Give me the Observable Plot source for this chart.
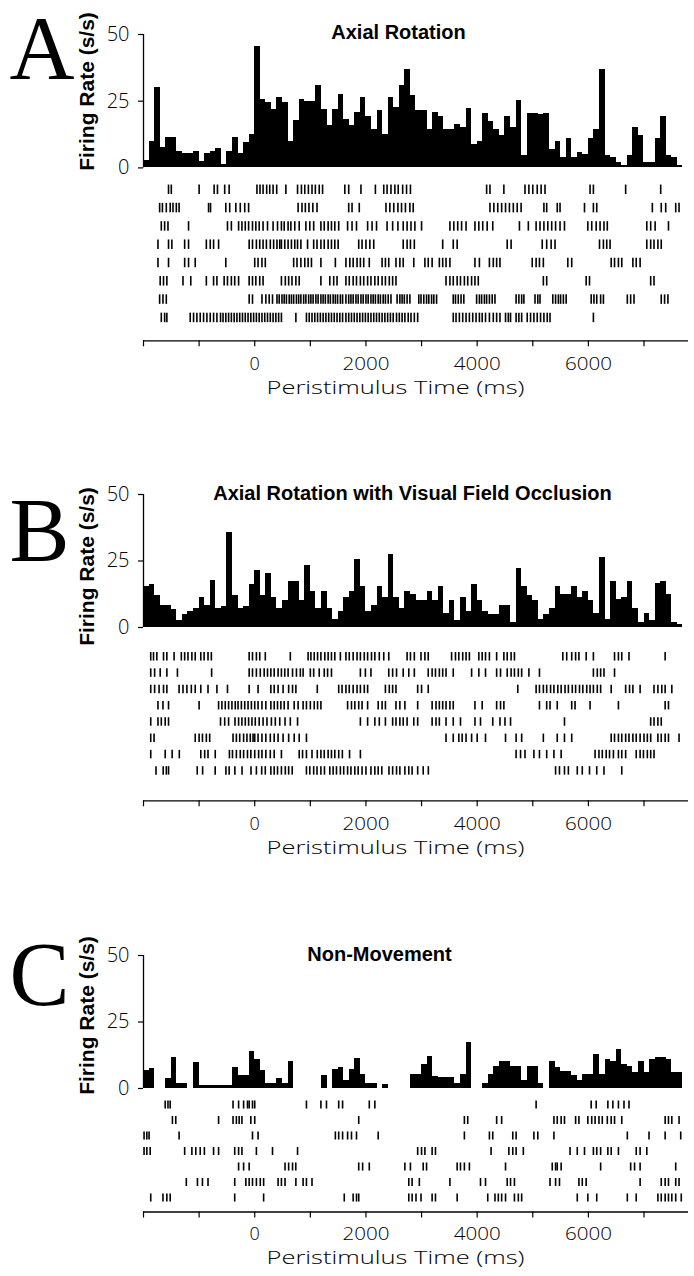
<!DOCTYPE html>
<html>
<head>
<meta charset="utf-8">
<script src="https://cdn.jsdelivr.net/npm/d3@7"></script>
<script src="https://cdn.jsdelivr.net/npm/@observablehq/plot@0.6"></script>
<style>
  html, body { margin: 0; padding: 0; background: #fff; }
  #fig { position: relative; width: 694px; height: 1276px; overflow: hidden; background: #fff; }
  #fig > svg, #fig > figure { position: absolute; left: 0; margin: 0; }
</style>
</head>
<body>
<div id="fig"></div>
<script>
// ---------------- DATA ----------------
// histogram bins: start times (ms), 100 ms wide
const binStarts = d3.range(-2000, 7700, 100);

const rateA = [2.7,10,30,7.5,11.5,11.5,6.3,5.3,5.3,6,2.3,5.3,6.3,7.3,1.3,6.3,11.5,5.5,9.5,12.5,
  45.6,25.5,24.5,22,26.5,24.5,9.8,17.8,25.5,24.8,24.8,30.8,21.8,15.8,21.8,27.5,18.3,15.8,20.6,26.5,
  19.4,14.3,21.5,12.5,26.5,22.5,30.8,36.8,27.3,21.5,21.5,14.3,20.6,19.4,14.3,14.3,16.1,15,22.1,8.8,
  9.8,20.3,17.3,14.3,12.1,19.4,15.3,25.3,4.8,20.3,20.3,20,20.3,6.9,9.8,3.8,11,3.8,5.6,5,
  11,14.3,36.9,4.8,4,1.9,0.8,4.8,15.3,12.1,1.9,1.9,11,19.4,4.8,3.8,0.9];

const rateB = [15.3,16.2,12.2,8.1,8.1,6.8,2.7,5,6,7.2,11.2,8.1,17.8,7.2,8,35.8,12.2,7.2,8,16.2,
  21.4,12.2,20.3,11.2,7.2,10.2,17.2,17.2,10.2,23.4,13.4,7.2,13.4,7.2,3.1,6.2,11.2,13.7,25.5,15.3,
  6.2,8.1,15.3,11.2,27.6,11.2,7.2,13.4,12.4,10.3,10.3,13.4,10.3,15.3,5.2,10.2,2.7,11.2,6.2,16.2,
  10.2,6.2,5,5,8.1,8.1,1.9,22.1,15.3,12.2,10.2,3.1,5,7.2,15.3,12.4,12.4,15.3,11.2,13.4,
  10.2,5.2,26.4,3.1,17.4,10.6,11.2,17.2,7.2,1.9,5.2,2.7,16.4,17.2,12.4,1.9,1.2];

const rateC = [6.6,7.6,0,0,3.6,11.7,1.8,1.8,0,9.6,1.2,1.2,1.2,1.2,1.2,1.2,7.8,4.8,4.8,13.9,
  10.8,6.6,1.8,1.8,3.9,1.8,10,0,0,0,0,0,4.8,0,7.2,7.8,3,7.2,11.2,5.4,
  2,1.8,0,1.5,0,0,0,0,5.4,5.4,9,12,4.5,4.2,4.2,4.2,1.8,5.4,17.2,0,
  0,1.8,5.4,8.1,10.2,10.2,8.4,8.4,3,8.1,8.4,1.8,0,10.2,7.8,6.4,6.4,4.8,3,5.4,
  5.4,12.6,5.4,10.8,10.2,14.8,9,8.1,6,10,6,10.8,11.7,11.7,10.8,6,6];

// raster spike times (ms), one array per trial
const rasterA = [
  [-1550,-1500,-1000,-730,-670,-540,-460,40,95,150,215,270,330,395,560,770,840,900,965,1030,1090,1160,1220,1620,1690,1910,2170,2320,2380,2450,2520,2580,2660,2730,2800,4170,4230,4480,4860,4930,5000,5080,5150,5220,6030,6090,6670,7300],
  [-1710,-1660,-1590,-1520,-1470,-1410,-1360,-830,-795,-520,-450,-340,-260,-180,-110,780,850,910,975,1045,1120,1690,1750,1880,2360,2430,2500,2575,2640,2710,2790,2850,4230,4300,4370,4440,4510,4580,4650,4720,4790,5200,5250,5440,5490,5930,6090,6150,7150,7310,7390,7570,7630],
  [-1680,-1620,-1560,-1190,-490,-420,-290,-230,-170,-110,-40,20,80,150,230,330,410,480,530,600,650,720,800,920,990,1060,1190,1250,1320,1380,1440,1510,1670,1750,1830,2030,2110,2190,2380,2480,2575,2670,2740,2810,2880,3000,3510,3580,3650,3720,3800,3960,4030,4100,4180,4280,4760,4920,5060,5130,5200,5270,5340,5410,5490,5570,5990,6060,6140,6210,6280,6340,7050,7120,7200,7440],
  [-1740,-1550,-1490,-1260,-1190,-870,-800,-740,-650,-100,-40,30,90,150,210,280,340,400,450,480,540,600,660,720,770,830,950,1060,1120,1190,1250,1320,1380,1440,1500,1870,1930,2000,2070,2140,2670,2740,2800,2870,3380,3570,3640,4540,4610,5170,5250,5330,5400,6200,6270,6330,6390,7050,7120,7180,7250,7310],
  [-1740,-1550,-1260,-1190,-1070,-520,0,60,130,190,700,760,830,900,960,1020,1190,1450,1640,1710,1770,1840,1900,1960,2060,2290,2350,2410,2540,2610,2670,2860,3060,3120,3190,3320,3380,3440,3510,3960,4040,4220,4290,4350,4410,4990,5060,5120,5190,5630,5700,6410,6470,6540,6600,6800,6860,6930],
  [-1700,-1640,-1580,-1290,-1150,-870,-740,-680,-550,-490,-420,-360,-290,-100,-40,20,90,150,480,550,610,670,740,800,1190,1350,1420,1480,1640,1700,1770,1830,1900,1960,2030,2090,2160,2220,2290,2350,2420,2480,2540,3440,3510,3570,3640,3700,3770,3830,3900,3960,4020,5190,5250,5960,6020,7120,7180],
  [-1710,-1650,-1590,-100,-40,130,200,260,320,400,440,490,530,570,620,660,700,750,790,830,880,920,970,1010,1050,1100,1140,1190,1230,1270,1320,1360,1410,1450,1490,1540,1580,1640,1690,1730,1770,1820,1860,1910,1950,2000,2040,2090,2130,2170,2220,2260,2310,2350,2400,2450,2560,2610,2650,2690,2740,2790,2950,2990,3040,3090,3130,3180,3220,3270,3570,3610,3660,3710,3760,3990,4040,4080,4130,4170,4220,4270,4320,4700,4750,4800,4840,5040,5090,5130,5360,5410,5460,5500,5550,5600,6050,6100,6150,6220,6270,6700,6760,6820,7310,7370,7430],
  [-1680,-1620,-1580,-1160,-1100,-1040,-980,-920,-860,-800,-740,-680,-615,-570,-520,-470,-420,-370,-320,-270,-220,-170,-120,-70,-20,30,80,130,180,230,280,330,380,430,480,740,930,980,1030,1080,1130,1180,1230,1280,1330,1380,1430,1480,1530,1580,1640,1690,1740,1790,1840,1890,1940,1990,2040,2090,2140,2190,2240,2290,2340,2390,2440,2490,2550,2600,2650,2700,2760,2810,2870,2930,3570,3620,3680,3740,3800,3860,3920,3980,4040,4090,4150,4220,4290,4350,4410,4510,4560,4600,4700,4750,4800,4900,4960,5020,5080,5140,5200,5260,5310,6090]
];

const rasterB = [
  [-1870,-1820,-1760,-1640,-1580,-1450,-1320,-1260,-1200,-1130,-1070,-970,-910,-840,-780,-100,-40,30,90,190,640,960,1010,1070,1130,1190,1260,1320,1380,1440,1540,1640,1700,1770,1840,1900,1970,2030,2100,2160,2240,2320,2410,2740,2800,2870,2990,3060,3120,3540,3610,3670,3740,3800,3860,4030,4090,4150,4220,4350,4480,4540,4610,4670,5540,5610,5700,5770,5830,5960,6090,6470,6540,6600,6730,7380],
  [-1870,-1800,-1700,-1580,-1390,-775,-100,-40,30,100,170,230,290,350,420,480,540,600,680,750,820,870,1000,1060,1160,1250,1310,1380,1900,1990,2090,2410,2480,2550,2670,2770,2870,3120,3190,3250,3320,3380,3440,3570,3900,4030,4150,4350,4420,4540,4610,4670,4740,4800,4930,5120,6090,6160,6220,6280,6470],
  [-1870,-1800,-1720,-1640,-1580,-1360,-1290,-1220,-1140,-1070,-970,-840,-680,-490,-100,60,290,350,420,510,610,680,740,1125,1510,1570,1640,1700,1770,1840,1900,1970,2030,2350,2420,2480,2540,2930,3000,3120,4730,5060,5120,5190,5250,5320,5380,5450,5510,5580,5640,5710,5770,5840,5900,5970,6030,6090,6160,6220,6410,6670,6740,6800,6930,7180,7250,7320,7380,7500],
  [-1740,-1650,-1550,-1000,-650,-590,-530,-470,-410,-350,-300,-240,-180,-120,-60,0,60,130,200,290,350,410,470,530,600,710,780,870,930,1000,1070,1130,1190,1670,1740,1800,1870,1930,2030,2220,2290,2350,2540,2610,2700,2930,3190,3260,3320,3380,3440,3510,3570,3960,4090,4350,4420,4480,5120,5250,5310,5440,5700,5760,6030,6540,7380,7440],
  [-1870,-1740,-1680,-1610,-1550,-615,-540,-470,-355,-290,-230,-170,-110,-50,10,80,150,220,300,370,450,545,640,770,1900,2030,2160,2240,2350,2480,2540,2610,2670,2740,2860,2930,3190,3260,3320,3440,3570,3700,3960,4060,4280,4410,4500,4600,5570,7120,7180,7250,7310],
  [-1870,-1810,-1070,-1000,-940,-870,-810,-390,-330,-270,-200,-140,-80,-30,0,60,130,200,280,350,420,510,610,710,800,930,3440,3570,3670,3730,3800,3900,4000,4150,4510,4700,4800,5190,5440,5570,5700,6410,6470,6540,6600,6670,6730,6800,6860,6930,7000,7060,7120,7250,7310,7380,7440,7630],
  [-1870,-1610,-1485,-1356,-970,-900,-840,-710,-455,-400,-330,-260,-200,-130,-70,0,70,130,200,280,350,480,800,860,930,1030,1125,1190,1250,1320,1380,1440,1510,1576,1705,1900,4700,4780,4860,5020,5120,5250,5380,5510,6120,6190,6250,6320,6380,6450,6540,6600,6670,6860,6930,6990,7060,7120,7180],
  [-1775,-1646,-1590,-1550,-1034,-937,-711,-518,-460,-357,-228,-67,30,125,190,290,350,410,480,550,610,674,930,990,1060,1120,1190,1254,1350,1410,1470,1540,1600,1670,1730,1800,1860,1930,2000,2090,2160,2220,2285,2414,2480,2550,2610,2700,2770,2830,2930,3030,3122,5410,5480,5570,5640,5800,5890,6020,6150,6280,6600]
];

const rasterC = [
  [-1610,-1560,-1520,-390,-290,-200,-130,-100,-40,0,930,1190,1290,1510,1580,2060,2160,5060,6050,6140,6350,6440,6540,6640,6730],
  [-1480,-1420,-650,-390,-330,-280,-230,-70,0,1870,3770,3830,4350,4440,5380,5440,5510,5570,5770,5830,5990,6060,6120,6190,6250,6340,6410,6470,6600,7380,7440,7500,7630],
  [-1990,-1940,-1900,-1360,-40,60,1450,1510,1580,1670,1740,1830,2220,3770,4220,4280,4640,4700,5020,5090,5380,6700,7090,7380,7660],
  [-1990,-1940,-1880,-1260,-1130,-1060,-980,-905,-740,-650,-360,-290,-230,30,320,770,2930,3000,3060,3190,3250,4250,4570,4640,4700,4830,5670,5800,5930,6090,6150,6220,6350,6410,6540,6860,6930,7050],
  [-290,-200,-100,545,610,680,738,1870,1940,2060,2700,2800,3030,3090,3640,3700,3770,3860,4510,5350,5410,5440,5510,6220,6760,6830,6930,7570],
  [-1230,-1030,-940,-840,-360,-160,-100,-40,30,100,160,420,480,545,740,870,930,1030,2770,2830,2960,3510,4060,4150,4540,4600,4670,5310,5410,5480,5830,5890,5960,6930,7310,7380,7440,7570,7630],
  [-1870,-1650,-1580,-1520,-360,160,1610,1770,1830,1870,2770,2830,2900,2990,3190,3250,3640,4190,4320,4380,4440,4510,4670,4740,4800,5800,5990,6150,6700,6860,7250,7310,7380,7440,7500,7570,7670]
];

const yTicks = [0, 25, 50];
const xTicks = [-2000, -1000, 0, 1000, 2000, 3000, 4000, 5000, 6000, 7000];
const xTickLabels = [0, 2000, 4000, 6000];
const letters = ["A", "B", "C"];
const titles = ["Axial Rotation", "Axial Rotation with Visual Field Occlusion", "Non-Movement"];
const yLabel = "Firing Rate (s/s)";
const xLabel = "Peristimulus Time (ms)";

// ---------------- LAYOUT ----------------
const W = 694, ML = 143, MR = 6;
const xDomain = [-2000, 7800];
const thin = "'Open Sans', 'DejaVu Sans', sans-serif";
const bold = "'Liberation Sans', Arial, sans-serif";
const serif = "'Liberation Serif', 'DejaVu Serif', serif";
const frameCX = (ML + (W - MR)) / 2;

const layout = [
  {yTop: 33.6, yBase: 167, letterBase: 78, titleCX: 398, titleDy: 5, yLabelC: 57, rowFirst: 189, rowStep: 18.3, axis: 340, tickLab: 362, xTitle: 393},
  {yTop: 494, yBase: 627, letterBase: 560, titleCX: 412, titleDy: 5, yLabelC: 72, rowFirst: 656, rowStep: 16.3, axis: 800, tickLab: 822, xTitle: 853},
  {yTop: 955, yBase: 1088, letterBase: 1004, titleCX: 379, titleDy: 5, yLabelC: 60, rowFirst: 1104, rowStep: 15.5, axis: 1211, tickLab: 1232, xTitle: 1263}
];
const rates = [rateA, rateB, rateC];
const rasters = [rasterA, rasterB, rasterC];

const fig = document.getElementById("fig");

layout.forEach((L, i) => {
  // ---- histogram ----
  const svgTop = L.yTop - 34;
  const bins = binStarts.map((t, j) => ({t, v: rates[i][j]}));
  const hist = Plot.plot({
    width: W,
    height: L.yBase + 4 - svgTop,
    marginLeft: ML, marginRight: MR,
    marginTop: L.yTop - svgTop, marginBottom: 4,
    x: {domain: xDomain, axis: null},
    y: {domain: [0, 50]},
    style: {overflow: "visible", background: "transparent"},
    marks: [
      Plot.rect(bins, {x1: "t", x2: d => d.t + 100, y1: 0, y2: "v", fill: "black", shapeRendering: "crispEdges"}),
      Plot.ruleX([xDomain[0]], {y1: 0, y2: 50, stroke: "black", strokeWidth: 1.3}),
      Plot.axisY({ticks: yTicks, tickSize: 5, tickPadding: 9, label: null, fontSize: 20, fontFamily: thin, fontWeight: 300, strokeWidth: 1.2}),
      Plot.text([titles[i]], {frameAnchor: "top", dx: L.titleCX - frameCX, dy: L.titleDy, lineAnchor: "bottom", textAnchor: "middle", fontSize: 20, fontWeight: "bold", fontFamily: bold}),
      Plot.text([letters[i]], {frameAnchor: "top-left", dx: 9 - ML, dy: L.letterBase - L.yTop, lineAnchor: "bottom", textAnchor: "start", fontSize: 90, fontFamily: serif}),
      Plot.text([yLabel], {frameAnchor: "left", rotate: -90, textAnchor: "middle", lineAnchor: "middle", dx: 87 - ML, dy: (L.yTop + L.yLabelC) - (L.yTop + L.yBase) / 2, fontSize: 21, fontWeight: "bold", fontFamily: bold})
    ]
  });
  hist.style.top = svgTop + "px";
  fig.appendChild(hist);

  // ---- raster ----
  const rows = rasters[i];
  const spikes = rows.flatMap((times, k) => times.map(t => ({t, k})));
  const rTop = L.rowFirst - L.rowStep;
  const bottomVal = (L.axis - L.rowFirst) / L.rowStep;
  const raster = Plot.plot({
    width: W,
    height: L.axis - rTop + 60,
    marginLeft: ML, marginRight: MR,
    marginTop: 0, marginBottom: 60,
    x: {domain: xDomain},
    y: {domain: [-1, bottomVal], reverse: true, axis: null},
    style: {overflow: "visible", background: "transparent"},
    marks: [
      Plot.ruleX(spikes, {x: "t", y1: d => d.k - 0.26, y2: d => d.k + 0.26, stroke: "black", strokeWidth: 1.6}),
      Plot.ruleY([bottomVal], {stroke: "black", strokeWidth: 1.3}),
      Plot.axisX({ticks: xTicks, tickSize: 6, tickPadding: L.tickLab - L.axis - 12, label: null,
        tickFormat: d => xTickLabels.includes(d) ? String(d) : "",
        fontSize: 18, fontFamily: thin, fontWeight: 300, strokeWidth: 1.2}),
      Plot.text([xLabel], {frameAnchor: "bottom", dx: 395 - frameCX, dy: L.xTitle - L.axis, lineAnchor: "bottom", textAnchor: "middle", fontSize: 19, fontFamily: thin, fontWeight: 300})
    ]
  });
  // widen the thin lettering to the reference's broad plotter font
  const svg = d3.select(raster);
  svg.selectAll("text").filter(function() { return this.textContent === xLabel; })
    .attr("textLength", 258).attr("lengthAdjust", "spacingAndGlyphs");
  svg.selectAll("text").filter(function() { return this.textContent.length === 4 && /^\d+$/.test(this.textContent); })
    .attr("textLength", 47).attr("lengthAdjust", "spacingAndGlyphs");
  raster.style.top = rTop + "px";
  fig.appendChild(raster);
});
</script>
</body>
</html>
